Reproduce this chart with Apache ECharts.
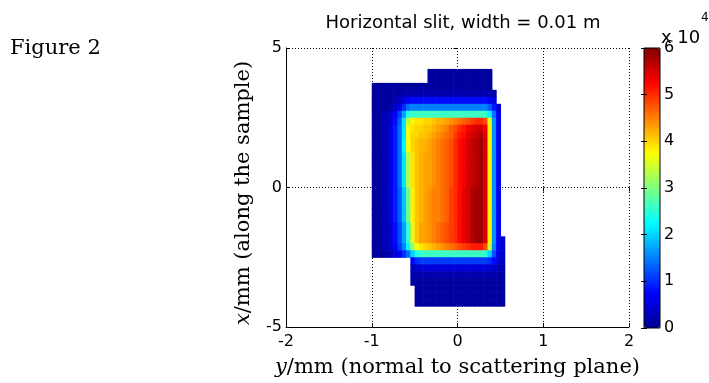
<!DOCTYPE html>
<html><head><meta charset="utf-8">
<script src="https://cdn.jsdelivr.net/npm/echarts@6/dist/echarts.min.js"></script>
<style>html,body{margin:0;padding:0;background:#fff}#c{width:709px;height:383px}</style>
</head><body><div id="c"></div>
<script>
const _ = null;
// horizontal axis (y/mm) ticks, vertical axis (x/mm) ticks, colorbar ticks (x10^4)
const xTicks = [-2, -1, 0, 1, 2];
const yTicks = [-5, 0, 5];
const cbTicks = [0, 1, 2, 3, 4, 5, 6];
// cell centres of the intensity map (mm)
const colY = [-0.975,-0.925,-0.875,-0.825,-0.775,-0.725,-0.675,-0.625,-0.575,-0.525,-0.475,-0.425,-0.375,-0.325,-0.275,-0.225,-0.175,-0.125,-0.075,-0.025,0.025,0.075,0.125,0.175,0.225,0.275,0.325,0.375,0.425,0.475,0.525];
const rowX = [4.125,3.875,3.625,3.375,3.125,2.875,2.625,2.375,2.125,1.875,1.625,1.375,1.125,0.875,0.625,0.375,0.125,-0.125,-0.375,-0.625,-0.875,-1.125,-1.375,-1.625,-1.875,-2.125,-2.375,-2.625,-2.875,-3.125,-3.375,-3.625,-3.875,-4.125];
const cellW = 0.05, cellH = 0.25;
// intensity in thousands of counts, rows top -> bottom, columns left -> right
const intensity = [
[_,_,_,_,_,_,_,_,_,_,_,_,_,1,1,1,1,1,1,1,1,1,1,1,1,1,1,1,_,_,_],
[_,_,_,_,_,_,_,_,_,_,_,_,_,1,1,1,1,1,1,1,1,1,1,1,1,1,1,1,_,_,_],
[1,1,1,1,1,1,1,1,1,1,1,1,1,1,1,1,1,1,1,1,1,1,1,1,1,1,1,1,_,_,_],
[1,1,1,1,1,1,1,2,2,2,2,2,2,2,2,2,2,2,2,2,2,2,2,2,2,2,2,2,2,_,_],
[1,1,1,1,1,2,3,5,7,8,8,8,8,8,8,8,8,8,8,8,8,8,8,8,8,8,8,7,5,_,_],
[1,1,1,1,2,4,6,10,14,15,15,15,15,15,15,15,15,15,15,15,15,15,15,15,15,15,15,13,9,5,_],
[1,1,2,3,4,7,11,17,24,26,26,26,26,26,26,26,26,26,26,26,26,26,26,26,26,26,26,22,14,7,_],
[1,1,2,3,5,8,13,21,34,38,39,39,40,40,41,42,42,43,44,45,46,47,48,49,50,50,48,36,16,7,_],
[1,1,2,3,6,9,14,21,37,39,40,40,41,41,42,43,44,45,47,48,50,51,53,54,55,55,53,38,16,7,_],
[1,1,2,3,6,9,14,21,37,40,40,41,41,42,43,44,45,46,47,49,51,52,54,55,56,57,54,38,16,7,_],
[1,1,2,3,6,9,14,22,37,40,41,42,42,43,44,45,46,47,48,50,52,53,55,56,57,58,55,38,16,7,_],
[1,1,2,3,6,9,14,22,37,40,41,42,42,43,44,45,46,47,48,50,52,53,55,56,57,58,55,38,16,7,_],
[1,1,2,3,6,9,14,21,33,39,41,42,43,43,44,45,46,47,48,50,52,53,55,56,57,58,55,38,16,7,_],
[1,1,2,3,6,9,14,21,33,39,41,42,43,43,44,45,46,47,48,50,52,53,55,56,57,58,55,38,16,7,_],
[1,1,2,3,6,9,14,21,33,39,41,42,43,43,44,45,46,47,48,50,52,53,55,56,57,58,55,38,16,7,_],
[1,1,2,3,6,9,14,21,33,39,41,42,43,43,44,45,46,47,48,50,52,53,55,56,57,58,55,38,16,7,_],
[1,1,2,3,6,9,14,21,33,39,41,42,43,43,44,45,46,47,48,50,52,53,55,56,57,58,55,38,16,7,_],
[1,1,2,3,6,9,13,19,29,38,41,42,43,44,45,45,46,47,49,50,52,54,55,57,58,58,55,38,16,7,_],
[1,1,2,3,6,9,13,19,29,38,41,42,43,44,45,45,46,47,49,50,52,54,55,57,58,58,55,38,16,7,_],
[1,1,2,3,6,9,13,19,29,38,41,42,43,44,45,45,46,47,49,50,52,54,55,57,58,58,55,38,16,7,_],
[1,1,2,3,6,9,13,19,29,38,41,42,43,44,45,45,46,47,49,50,52,54,55,57,58,58,55,38,16,7,_],
[1,1,2,3,6,9,13,19,29,38,41,42,43,44,45,45,46,47,49,50,52,54,55,57,58,58,55,38,16,7,_],
[1,1,2,3,5,8,12,17,25,36,41,43,43,44,45,46,47,48,49,50,52,54,55,57,58,58,55,38,16,7,_],
[1,1,2,3,5,8,12,17,25,36,41,43,43,44,45,46,47,48,49,50,52,54,55,57,58,58,55,38,16,7,_],
[1,1,2,3,5,8,12,17,25,36,41,43,43,44,45,46,47,48,49,50,52,54,55,57,58,58,55,38,16,7,4],
[1,1,2,3,4,7,11,15,22,32,37,39,40,41,42,43,44,45,46,47,48,49,50,51,51,51,48,34,15,7,4],
[1,1,1,2,3,5,7,10,14,20,24,26,26,26,26,26,26,26,26,26,26,26,26,26,26,26,25,20,12,6,4],
[_,_,_,_,_,_,_,_,_,7,10,11,11,11,11,11,11,11,11,11,11,11,11,11,11,11,11,10,8,5,3],
[_,_,_,_,_,_,_,_,_,3,4,5,5,5,5,5,5,5,5,5,5,5,5,5,5,5,5,5,4,3,2],
[_,_,_,_,_,_,_,_,_,2,2,2,2,2,2,2,2,2,2,2,2,2,2,2,2,2,2,2,2,2,1],
[_,_,_,_,_,_,_,_,_,1,1,1,1,1,1,1,1,1,1,1,1,1,1,1,1,1,1,1,1,1,1],
[_,_,_,_,_,_,_,_,_,_,1,1,1,1,1,1,1,1,1,1,1,1,1,1,1,1,1,1,1,1,1],
[_,_,_,_,_,_,_,_,_,_,1,1,1,1,1,1,1,1,1,1,1,1,1,1,1,1,1,1,1,1,1],
[_,_,_,_,_,_,_,_,_,_,1,1,1,1,1,1,1,1,1,1,1,1,1,1,1,1,1,1,1,1,1]
];
intensity.forEach((r,i)=>{ if(r.length!==colY.length) console.error('row '+i+' has '+r.length); });
if (intensity.length !== rowX.length) console.error('rows ' + intensity.length);

const jet = ['#00008F','#0000FF','#0080FF','#00FFFF','#80FF80','#FFFF00','#FF8000','#FF0000','#800000'];

const cells = [];
intensity.forEach((row, i) => row.forEach((v, j) => { if (v !== null) cells.push([colY[j], rowX[i], v]); }));

const sans = 'DejaVu Sans';
const serif = 'DejaVu Serif';
const chart = echarts.init(document.getElementById('c'), null, {renderer: 'canvas'});
chart.setOption({
  animation: false,
  backgroundColor: '#fff',
  title: {
    text: 'Horizontal slit, width = 0.01 m',
    left: 458, top: 9, textAlign: 'center',
    textStyle: {fontFamily: sans, fontSize: 18, fontWeight: 'normal', color: '#000'}
  },
  grid: [
    {left: 286, top: 48, width: 343, height: 280, show: false},
    {left: 644, top: 48, width: 16, height: 280, show: true, borderColor: '#000', borderWidth: 1, backgroundColor: 'transparent', z: 10}
  ],
  xAxis: [
    {gridIndex: 0, type: 'value', min: xTicks[0], max: xTicks[xTicks.length-1], interval: xTicks[1]-xTicks[0],
     axisLine: {onZero: false, lineStyle: {color: '#000', width: 1}},
     axisTick: {inside: true, length: 4, lineStyle: {color: '#000'}},
     axisLabel: {fontFamily: sans, fontSize: 16, color: '#000', margin: 7},
     splitLine: {show: true, lineStyle: {color: '#000', type: [1, 2], width: 1}},
     name: '{i|y}/mm (normal to scattering plane)', nameLocation: 'middle', nameGap: 30,
     nameTextStyle: {fontFamily: serif, fontSize: 21, color: '#000', rich: {i: {fontFamily: serif, fontSize: 21, fontStyle: 'italic', color: '#000'}}}},
    {gridIndex: 0, type: 'value', position: 'top', min: xTicks[0], max: xTicks[xTicks.length-1], interval: xTicks[1]-xTicks[0],
     axisLine: {show: false}, axisTick: {inside: true, length: 4, lineStyle: {color: '#000'}}, axisLabel: {show: false}, splitLine: {show: false}},
    {gridIndex: 1, type: 'value', min: 0, max: 1, show: false}
  ],
  yAxis: [
    {gridIndex: 0, type: 'value', min: yTicks[0], max: yTicks[yTicks.length-1], interval: yTicks[1]-yTicks[0],
     axisLine: {onZero: false, lineStyle: {color: '#000', width: 1}},
     axisTick: {inside: true, length: 4, lineStyle: {color: '#000'}},
     axisLabel: {fontFamily: sans, fontSize: 16, color: '#000', margin: 4},
     splitLine: {show: true, lineStyle: {color: '#000', type: [1, 2], width: 1}}},
    {gridIndex: 0, type: 'value', position: 'right', min: yTicks[0], max: yTicks[yTicks.length-1], interval: yTicks[1]-yTicks[0],
     axisLine: {show: false}, axisTick: {inside: true, length: 4, lineStyle: {color: '#000'}}, axisLabel: {show: false}, splitLine: {show: false}},
    {gridIndex: 1, type: 'value', position: 'right', min: cbTicks[0], max: cbTicks[cbTicks.length-1], interval: cbTicks[1]-cbTicks[0], z: 10,
     axisLine: {show: false}, axisTick: {inside: true, length: 3, lineStyle: {color: '#000'}},
     axisLabel: {fontFamily: sans, fontSize: 16, color: '#000', margin: 4}, splitLine: {show: false}},
    {gridIndex: 1, type: 'value', position: 'left', min: cbTicks[0], max: cbTicks[cbTicks.length-1], interval: cbTicks[1]-cbTicks[0], z: 10,
     axisLine: {show: false}, axisTick: {inside: true, length: 3, lineStyle: {color: '#000'}},
     axisLabel: {show: false}, splitLine: {show: false}}
  ],
  visualMap: {
    type: 'continuous', min: 0, max: 60, dimension: 2, seriesIndex: 0,
    inRange: {color: jet}, calculable: false, orient: 'vertical',
    left: 644, top: 48, itemWidth: 16, itemHeight: 280, padding: 0, text: null, z: 1, hoverLink: false
  },
  graphic: [
    {type: 'text', left: 10, top: 38, style: {text: 'Figure 2', fontFamily: serif, fontSize: 21, fill: '#000'}},
    {type: 'text', x: 244, y: 193, rotation: Math.PI / 2,
     style: {text: '{i|x}/mm (along the sample)', fontFamily: serif, fontSize: 21, fill: '#000', align: 'center', verticalAlign: 'middle',
             rich: {i: {fontFamily: serif, fontSize: 21, fontStyle: 'italic', fill: '#000'}}}},
    {type: 'text', left: 661, top: 29, style: {text: 'x 10', fontFamily: sans, fontSize: 18, fill: '#000'}},
    {type: 'text', left: 701, top: 12, style: {text: '4', fontFamily: sans, fontSize: 12, fill: '#000'}}
  ],
  series: [{
    type: 'custom', xAxisIndex: 0, yAxisIndex: 0, coordinateSystem: 'cartesian2d',
    encode: {x: 0, y: 1}, dimensions: ['y', 'x', 'counts'],
    data: cells,
    renderItem: function (params, api) {
      const c = api.coord([api.value(0), api.value(1)]);
      const s = api.size([cellW, cellH]);
      return {type: 'rect', shape: {x: c[0] - s[0] / 2, y: c[1] - s[1] / 2, width: s[0] + 0.6, height: s[1] + 0.6},
              style: {fill: api.visual('color')}};
    }
  }]
});
</script></body></html>
